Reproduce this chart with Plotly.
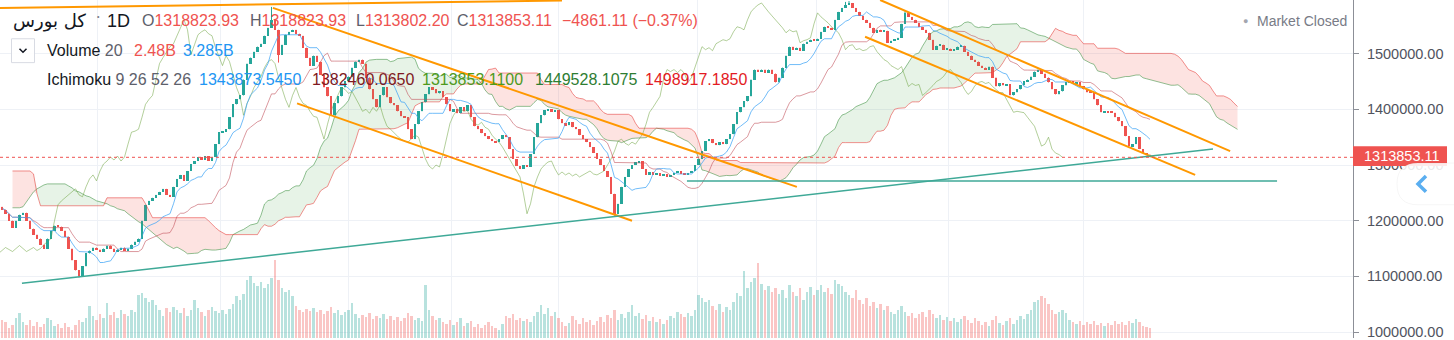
import numpy as np
import pandas as pd
import plotly.graph_objects as go

# ---------------- data (prices in thousands, volumes in billions) ----------------
close_k = [
1219.7, 1212.5, 1200.0, 1187.5, 1200.0, 1210.7, 1214.3, 1200.0, 1185.7, 1175.0,
1167.9, 1157.1, 1150.0, 1167.9, 1182.2, 1191.1, 1189.3, 1182.2, 1171.4, 1150.0,
1128.6, 1110.7, 1100.0, 1117.9, 1141.1, 1146.4, 1151.8, 1148.2, 1144.6, 1150.0,
1155.4, 1150.0, 1144.6, 1148.2, 1151.8, 1146.4, 1150.0, 1157.1, 1162.5, 1167.9,
1200.0, 1228.6, 1235.7, 1241.1, 1246.4, 1251.8, 1257.2, 1246.4, 1242.9, 1260.8,
1275.0, 1282.2, 1271.5, 1289.3, 1301.8, 1307.2, 1314.3, 1309.0, 1316.1, 1307.2,
1314.3, 1337.5, 1359.0, 1360.8, 1364.3, 1385.8, 1409.0, 1417.9, 1425.0, 1453.6,
1482.2, 1492.9, 1503.6, 1512.6, 1517.9, 1532.2, 1546.5, 1560.8, 1542.9, 1498.3,
1516.1, 1534.0, 1539.3, 1542.9, 1535.8, 1532.2, 1510.8, 1492.9, 1478.6, 1496.5,
1485.8, 1462.5, 1439.3, 1423.3, 1389.3, 1410.8, 1423.3, 1439.3, 1450.1, 1459.0,
1475.0, 1485.8, 1489.3, 1482.2, 1457.2, 1435.8, 1417.9, 1403.6, 1425.0, 1439.3,
1421.5, 1410.8, 1407.2, 1396.5, 1387.5, 1385.8, 1364.3, 1346.5, 1373.3, 1396.5,
1412.5, 1426.8, 1439.3, 1435.8, 1428.6, 1432.2, 1421.5, 1409.0, 1396.5, 1400.0,
1392.9, 1403.6, 1396.5, 1407.2, 1385.8, 1369.7, 1364.3, 1357.2, 1351.8, 1346.5,
1342.9, 1341.1, 1346.5, 1353.6, 1350.0, 1328.6, 1310.8, 1298.2, 1292.9, 1300.0,
1296.5, 1319.7, 1350.0, 1375.0, 1389.3, 1398.3, 1400.0, 1396.5, 1398.3, 1382.2,
1375.0, 1371.5, 1376.8, 1367.9, 1364.3, 1353.6, 1346.5, 1341.1, 1332.2, 1321.5,
1310.8, 1300.0, 1289.3, 1278.6, 1248.3, 1212.5, 1230.4, 1260.8, 1278.6, 1292.9,
1300.0, 1305.4, 1307.2, 1292.9, 1282.2, 1287.5, 1282.2, 1285.7, 1280.4, 1283.9,
1278.6, 1282.2, 1285.7, 1289.3, 1283.9, 1282.2, 1285.7, 1289.3, 1300.0, 1310.8,
1325.1, 1342.9, 1346.5, 1339.3, 1335.7, 1341.1, 1337.5, 1346.5, 1355.4, 1373.3,
1394.7, 1403.6, 1414.3, 1423.3, 1453.6, 1471.5, 1467.9, 1471.5, 1466.1, 1471.5,
1464.3, 1448.3, 1457.2, 1475.0, 1496.5, 1512.6, 1507.2, 1510.8, 1505.4, 1517.9,
1521.5, 1525.1, 1523.3, 1526.9, 1539.3, 1548.3, 1546.5, 1542.9, 1560.8, 1575.1,
1582.2, 1587.6, 1591.1, 1582.2, 1575.1, 1567.9, 1560.8, 1555.4, 1546.5, 1537.6,
1542.9, 1539.3, 1541.1, 1519.7, 1523.3, 1525.1, 1528.6, 1553.6, 1573.3, 1566.1,
1560.8, 1555.4, 1548.3, 1542.9, 1537.6, 1525.1, 1507.2, 1514.3, 1516.1, 1507.2,
1509.0, 1505.4, 1507.2, 1512.6, 1514.3, 1503.6, 1496.5, 1489.3, 1485.8, 1478.6,
1475.0, 1471.5, 1476.8, 1457.2, 1441.1, 1446.5, 1442.9, 1444.7, 1425.0, 1430.4,
1435.8, 1442.9, 1450.1, 1453.6, 1459.0, 1467.9, 1471.5, 1464.3, 1457.2, 1448.3,
1435.8, 1426.8, 1432.2, 1442.9, 1448.3, 1450.1, 1446.5, 1448.3, 1441.1, 1435.8,
1430.4, 1429.8, 1417.9, 1407.2, 1394.7, 1396.5, 1394.7, 1394.0, 1385.8, 1378.6,
1369.7, 1351.8, 1334.0, 1337.5, 1350.0, 1328.6, 1321.5, 1318.82393, 1313.85311,
]
first_open_k = 1225.0
wick_high_k = {77: 1584.0, 79: 1537.6, 241: 1593.0, 242: 1594.5, 258: 1576.0, 328: 1318.82393}
wick_low_k = {22: 1098.0, 79: 1484.0, 175: 1209.0, 328: 1313.8022}

vol_b = [
4.0, 3.6, 2.4, 3.0, 4.4, 5.4, 3.6, 3.0, 4.0, 2.8,
3.6, 2.6, 3.2, 4.4, 4.0, 2.8, 3.2, 2.4, 3.4, 2.6,
2.0, 3.0, 4.0, 3.6, 4.4, 6.8, 4.8, 4.0, 5.2, 4.4,
7.4, 5.0, 5.6, 4.4, 6.0, 5.2, 4.8, 6.0, 5.6, 9.0,
9.4, 8.4, 7.6, 8.0, 7.0, 6.0, 4.8, 6.4, 5.6, 6.6,
6.0, 5.4, 6.4, 4.8, 6.0, 8.0, 6.4, 5.6, 4.8, 6.0,
6.6, 5.8, 5.4, 6.0, 5.2, 6.2, 7.2, 8.8, 8.0, 9.2,
12.0, 12.8, 11.4, 10.8, 11.6, 10.4, 11.2, 12.4, 16.0, 12.0,
10.4, 9.6, 10.0, 8.8, 6.8, 6.0, 5.6, 6.2, 5.8, 6.4,
5.6, 6.0, 5.2, 5.8, 6.6, 5.4, 6.0, 5.0, 5.6, 6.0,
7.4, 5.2, 4.4, 5.0, 4.6, 5.4, 4.2, 4.8, 4.4, 5.2,
4.2, 4.8, 4.0, 4.6, 3.8, 4.4, 5.4, 4.8, 4.0, 4.4,
3.8, 11.0, 6.0, 4.8, 4.0, 4.4, 3.6, 3.2, 4.0, 3.0,
3.6, 4.4, 2.8, 3.4, 3.8, 2.6, 3.2, 2.4, 3.0, 3.6,
2.8, 2.4, 2.0, 3.2, 4.8, 4.4, 5.2, 4.0, 4.4, 3.8,
4.2, 3.6, 4.8, 5.6, 7.0, 5.2, 6.4, 4.8, 5.6, 4.4,
3.6, 2.8, 3.4, 4.8, 4.0, 3.2, 4.4, 3.6, 4.0, 3.0,
3.8, 4.6, 3.6, 5.0, 4.4, 6.0, 4.0, 5.2, 4.4, 5.6,
7.0, 4.8, 5.4, 4.2, 5.0, 3.8, 4.6, 3.6, 4.2, 3.2,
4.0, 4.8, 4.4, 5.6, 5.2, 4.6, 5.4, 4.8, 6.0, 9.0,
8.4, 7.6, 8.0, 6.8, 6.0, 7.2, 5.6, 6.6, 6.0, 7.6,
9.4, 8.8, 13.8, 10.4, 11.6, 12.4, 15.4, 11.2, 10.0, 10.8,
9.6, 10.4, 9.2, 10.0, 8.4, 11.0, 9.6, 8.8, 10.4, 8.0,
9.6, 10.6, 9.0, 10.0, 11.0, 9.6, 10.4, 9.2, 12.0, 11.2,
10.8, 9.6, 9.0, 8.4, 10.0, 8.0, 7.2, 8.4, 6.8, 7.6,
6.4, 7.2, 6.0, 6.8, 5.6, 5.2, 6.0, 6.8, 5.6, 4.8,
5.4, 4.4, 5.2, 5.6, 4.6, 6.0, 5.2, 4.4, 5.0, 4.0,
4.6, 3.8, 4.4, 3.6, 4.2, 4.8, 4.0, 3.4, 4.4, 3.8,
3.0, 3.6, 2.8, 4.0, 4.8, 3.4, 3.0, 3.8, 4.4, 3.2,
4.0, 4.8, 4.2, 5.2, 6.0, 7.6, 8.0, 8.8, 8.4, 7.2,
6.0, 5.2, 5.6, 6.0, 5.4, 4.0, 3.6, 3.2, 3.8, 3.0,
3.6, 3.2, 3.8, 3.0, 3.4, 2.8, 3.4, 3.0, 3.8, 3.2,
3.6, 3.0, 3.8, 3.4, 4.2, 3.6, 2.8, 2.6, 2.48,
]

# Ichimoku leading spans for the first bars (their inputs lie before the loaded data)
span_a_start_bar = 3
span_a_early_k = [
1223.2, 1223.2, 1223.2, 1225.0, 1234.0, 1242.9, 1251.8, 1257.2, 1260.7, 1264.3,
1266.1, 1266.1, 1266.1, 1266.1, 1266.1, 1266.1, 1262.5, 1259.0, 1253.6, 1251.8,
1248.2, 1244.7, 1242.9, 1239.3, 1235.7, 1234.0, 1232.2, 1230.4, 1226.8, 1225.0,
1221.4, 1219.7, 1217.9, 1212.5, 1207.2, 1201.8, 1198.2, 1194.6, 1189.3, 1183.9,
1178.6, 1173.2, 1167.9, 1162.5, 1157.1, 1153.6, 1150.0,
]
span_b_early_k = [
1289.3, 1289.3, 1289.3, 1289.3, 1289.3, 1289.3, 1284.0, 1248.2,
1226.8, 1226.8, 1226.8, 1226.8, 1226.8, 1226.8, 1226.8, 1226.8, 1226.8, 1226.8,
1226.8, 1226.8, 1226.8, 1226.8, 1226.8, 1226.8, 1226.8, 1226.8, 1226.8,
1241.1, 1241.1, 1241.1, 1241.1, 1241.1, 1241.1, 1241.1, 1241.1, 1241.1, 1241.1, 1241.1,
1230.4, 1217.9,
1205.4, 1205.4, 1205.4, 1205.4, 1205.4, 1205.4, 1205.4, 1205.4,
1205.4, 1205.4, 1205.4, 1205.4, 1205.4, 1205.4, 1205.4, 1205.4,
1200.0, 1192.9, 1187.5, 1182.2, 1178.6,
1175.0, 1175.0, 1175.0, 1175.0, 1175.0, 1175.0, 1175.0, 1175.0, 1175.0, 1175.0,
1185.7, 1192.9,
]
ichimoku_params = [9, 26, 52, 26]

# vertical grid positions (bar index)
grid_bars = [27.4, 62.3, 98.9, 128.3, 158.9, 198.6, 232.6, 270.3, 309.1]
price_ticks = [1000000, 1100000, 1200000, 1300000, 1400000, 1500000]

# drawn trend lines (bar index, price in thousands)
orange_x0 = [-0.57, 77.4, 84.3, 250.9, 246.6]
orange_y0 = [1582.2, 1582.2, 1410.8, 1596.5, 1530.4]
orange_x1 = [160.0, 227.1, 180.0, 350.9, 340.9]
orange_y1 = [1595.4, 1260.7, 1200.0, 1325.0, 1282.2]
teal_x0 = [5.7, 195.7]
teal_y0 = [1087.5, 1271.5]
teal_x1 = [346.0, 364.3]
teal_y1 = [1328.6, 1271.5]

# ---------------- derived series ----------------
n = len(close_k)
idx = np.arange(n)
close = np.array(close_k) * 1000.0
open_ = np.r_[first_open_k * 1000.0, close[:-1]]
high = np.maximum(open_, close)
low = np.minimum(open_, close)
for k, v in wick_high_k.items():
    high[k] = max(high[k], v * 1000)
for k, v in wick_low_k.items():
    low[k] = min(low[k], v * 1000)
up = close >= open_

H = pd.Series(high)
L = pd.Series(low)
p1, p2, p3, disp = ichimoku_params
tenkan = ((H.rolling(p1, min_periods=1).max() + L.rolling(p1, min_periods=1).min()) / 2).values
kijun = ((H.rolling(p2, min_periods=1).max() + L.rolling(p2, min_periods=1).min()) / 2).values
a_calc = (tenkan + kijun) / 2
b_calc = ((H.rolling(p3, min_periods=1).max() + L.rolling(p3, min_periods=1).min()) / 2).values
shift = disp - 1

span_x = np.arange(span_a_start_bar, n + shift)
spanA = np.empty(len(span_x))
spanB = np.empty(len(span_x))
for j, xv in enumerate(span_x):
    ia = xv - span_a_start_bar
    spanA[j] = span_a_early_k[ia] * 1000 if ia < len(span_a_early_k) else a_calc[xv - shift]
    spanB[j] = span_b_early_k[ia] * 1000 if ia < len(span_b_early_k) else b_calc[xv - shift]

UP = '#26a69a'
DN = '#ef5350'
FONT = 'Liberation Sans, Arial, sans-serif'

fig = go.Figure()

# volume (base y axis, behind)
fig.add_trace(go.Bar(
    x=idx, y=np.array(vol_b) * 1e9, width=0.82, yaxis='y',
    marker=dict(color=np.where(up, 'rgba(38,166,154,0.33)', 'rgba(239,83,80,0.33)'), line=dict(width=0)),
    hoverinfo='skip', showlegend=False))

# cloud
fig.add_trace(go.Scatter(x=span_x, y=spanB, yaxis='y2', mode='lines', line=dict(width=0),
                         hoverinfo='skip', showlegend=False))
fig.add_trace(go.Scatter(x=span_x, y=np.maximum(spanA, spanB), yaxis='y2', mode='lines', line=dict(width=0),
                         fill='tonexty', fillcolor='rgba(67,160,71,0.13)', hoverinfo='skip', showlegend=False))
fig.add_trace(go.Scatter(x=span_x, y=spanB, yaxis='y2', mode='lines', line=dict(width=0),
                         hoverinfo='skip', showlegend=False))
fig.add_trace(go.Scatter(x=span_x, y=np.minimum(spanA, spanB), yaxis='y2', mode='lines', line=dict(width=0),
                         fill='tonexty', fillcolor='rgba(244,67,54,0.15)', hoverinfo='skip', showlegend=False))
fig.add_trace(go.Scatter(x=span_x, y=spanA, yaxis='y2', mode='lines',
                         line=dict(color='rgba(56,142,60,0.55)', width=1), hoverinfo='skip', showlegend=False))
fig.add_trace(go.Scatter(x=span_x, y=spanB, yaxis='y2', mode='lines',
                         line=dict(color='rgba(229,57,53,0.55)', width=1), hoverinfo='skip', showlegend=False))

# lagging, base, conversion lines
fig.add_trace(go.Scatter(x=idx - shift, y=close, yaxis='y2', mode='lines',
                         line=dict(color='rgba(104,159,56,0.5)', width=1), hoverinfo='skip', showlegend=False))
fig.add_trace(go.Scatter(x=idx, y=kijun, yaxis='y2', mode='lines',
                         line=dict(color='rgba(190,70,80,0.55)', width=1), hoverinfo='skip', showlegend=False))
fig.add_trace(go.Scatter(x=idx, y=tenkan, yaxis='y2', mode='lines',
                         line=dict(color='rgba(66,165,245,0.75)', width=1), hoverinfo='skip', showlegend=False))

# candles: wicks + bodies
for mask, col in ((up, UP), (~up, DN)):
    wx, wy = [], []
    for i in idx[mask]:
        wx += [i, i, None]
        wy += [low[i], high[i], None]
    fig.add_trace(go.Scatter(x=wx, y=wy, yaxis='y2', mode='lines', line=dict(color=col, width=1),
                             hoverinfo='skip', showlegend=False))
body_base = np.minimum(open_, close)
body_h = np.maximum(np.abs(close - open_), 1600.0)
fig.add_trace(go.Bar(x=idx, y=body_h, base=body_base, width=0.72, yaxis='y2',
                     marker=dict(color=np.where(up, UP, DN), line=dict(width=0)),
                     hoverinfo='skip', showlegend=False))

# trend lines
for i in range(len(orange_x0)):
    fig.add_trace(go.Scatter(x=[orange_x0[i], orange_x1[i]], y=[orange_y0[i] * 1000, orange_y1[i] * 1000],
                             yaxis='y2', mode='lines', line=dict(color='#ff9800', width=2),
                             hoverinfo='skip', showlegend=False))
for i in range(len(teal_x0)):
    fig.add_trace(go.Scatter(x=[teal_x0[i], teal_x1[i]], y=[teal_y0[i] * 1000, teal_y1[i] * 1000],
                             yaxis='y2', mode='lines', line=dict(color='#3fa997', width=1.5),
                             hoverinfo='skip', showlegend=False))

W, Hh = 1454, 340
PW = 1353.0


def px(x):
    return x / PW


def py(y):
    return 1 - y / Hh


shapes = []
last = close[-1]
shapes.append(dict(type='line', xref='paper', yref='y2', x0=0, x1=1, y0=last, y1=last,
                   line=dict(color=DN, width=1, dash='dot'), layer='above'))
# price label box
shapes.append(dict(type='rect', xref='paper', yref='paper', x0=px(1353), x1=px(1447), y0=py(167), y1=py(147),
                   fillcolor='#ef5350', line=dict(width=0), layer='above'))
# scroll button
r = 21
bx0, bx1, by0, by1 = 1397, 1470, 164, 206
path = (f"M {px(bx1)},{py(by0)} L {px(bx0 + r)},{py(by0)} "
        f"Q {px(bx0)},{py(by0)} {px(bx0)},{py(by0 + r)} "
        f"Q {px(bx0)},{py(by1)} {px(bx0 + r)},{py(by1)} L {px(bx1)},{py(by1)} Z")
shapes.append(dict(type='path', xref='paper', yref='paper', path=path, fillcolor='rgba(255,255,255,0.88)',
                   line=dict(color='rgba(0,0,0,0.04)', width=1), layer='above'))
shapes.append(dict(type='path', xref='paper', yref='paper',
                   path=f"M {px(1426)},{py(177)} L {px(1418)},{py(185)} L {px(1426)},{py(193)}",
                   line=dict(color='#5aaef0', width=3.5), layer='above'))
# legend dropdown box
shapes.append(dict(type='rect', xref='paper', yref='paper', x0=px(11.5), x1=px(34.5), y0=py(63), y1=py(39),
                   fillcolor='rgba(255,255,255,0.9)', line=dict(color='#d8dbe3', width=1), layer='above'))
shapes.append(dict(type='path', xref='paper', yref='paper',
                   path=f"M {px(19.5)},{py(49)} L {px(23)},{py(52.5)} L {px(26.5)},{py(49)}",
                   line=dict(color='#131722', width=1.5), layer='above'))

anns = []


def ann(x, y, text, size=16, color='#131722', family=FONT, anchor='left'):
    anns.append(dict(x=px(x), y=py(y), xref='paper', yref='paper', text=text, showarrow=False,
                     xanchor=anchor, yanchor='middle', font=dict(size=size, color=color, family=family)))


RED = '#ef5350'
GR = '#5d606b'
ann(88, 21, 'کل بورس', 18, '#131722', 'DejaVu Sans', 'right')
ann(98, 17, '•', 7, '#787b86', FONT, 'center')
ann(105, 21, '1D', 18)
ann(140, 21, f"O<span style='color:{RED}'>1318823.93</span>", 16, GR)
ann(248, 21, f"H<span style='color:{RED}'>1318823.93</span>", 16, GR)
ann(354, 21, f"L<span style='color:{RED}'>1313802.20</span>", 16, GR)
ann(455, 21, f"C<span style='color:{RED}'>1313853.11</span>", 16, GR)
ann(560, 21, '−4861.11 (−0.37%)', 16, RED)
ann(45, 51, "Volume <span style='color:#5d606b'>20</span>", 16)
ann(132, 51, '2.48B', 16, RED)
ann(181, 51, '3.285B', 16, '#2196f3')
ann(45, 80, "Ichimoku <span style='color:#5d606b'>9 26 52 26</span>", 16)
ann(197, 80, '1343873.5450', 16, '#2196f3')
ann(310, 80, '1382460.0650', 16, '#801922')
ann(420, 80, '1313853.1100', 16, '#4e9a1e')
ann(533, 80, '1449528.1075', 16, '#2e7d32')
ann(643, 80, '1498917.1850', 16, '#e31b23')
ann(1245, 21, '●', 9, '#a3a6af', FONT, 'center')
ann(1255, 21, 'Market Closed', 14, '#787b86')
ann(1362, 157, f"{last:.2f}", 14.5, '#ffffff')

fig.update_layout(
    width=W, height=Hh, margin=dict(l=0, r=W - PW, t=0, b=0, pad=0), autosize=False,
    paper_bgcolor='white', plot_bgcolor='white', showlegend=False, hovermode=False,
    barmode='overlay', bargap=0,
    xaxis=dict(range=[-2 / 3.5, (PW - 2) / 3.5], tickvals=grid_bars, showticklabels=False, ticks='',
               showgrid=True, gridcolor='#eef1f6', gridwidth=1, zeroline=False, showline=False, fixedrange=True),
    yaxis=dict(range=[0.4e9, 68.4e9], visible=False, showgrid=False, zeroline=False, fixedrange=True),
    yaxis2=dict(range=[989286, 1596429], overlaying='y', side='right', anchor='x',
                tickvals=price_ticks, tickformat='.2f', showgrid=True, gridcolor='#eef1f6', gridwidth=1,
                zeroline=False, showline=True, linecolor='#8c8f97', linewidth=1,
                ticks='outside', ticklen=5, tickcolor='#8c8f97', ticklabelstandoff=5,
                ticklabeloverflow='allow',
                tickfont=dict(size=14.5, color='#50535e', family=FONT), fixedrange=True),
    shapes=shapes, annotations=anns,
)

fig.write_html('out.html')
